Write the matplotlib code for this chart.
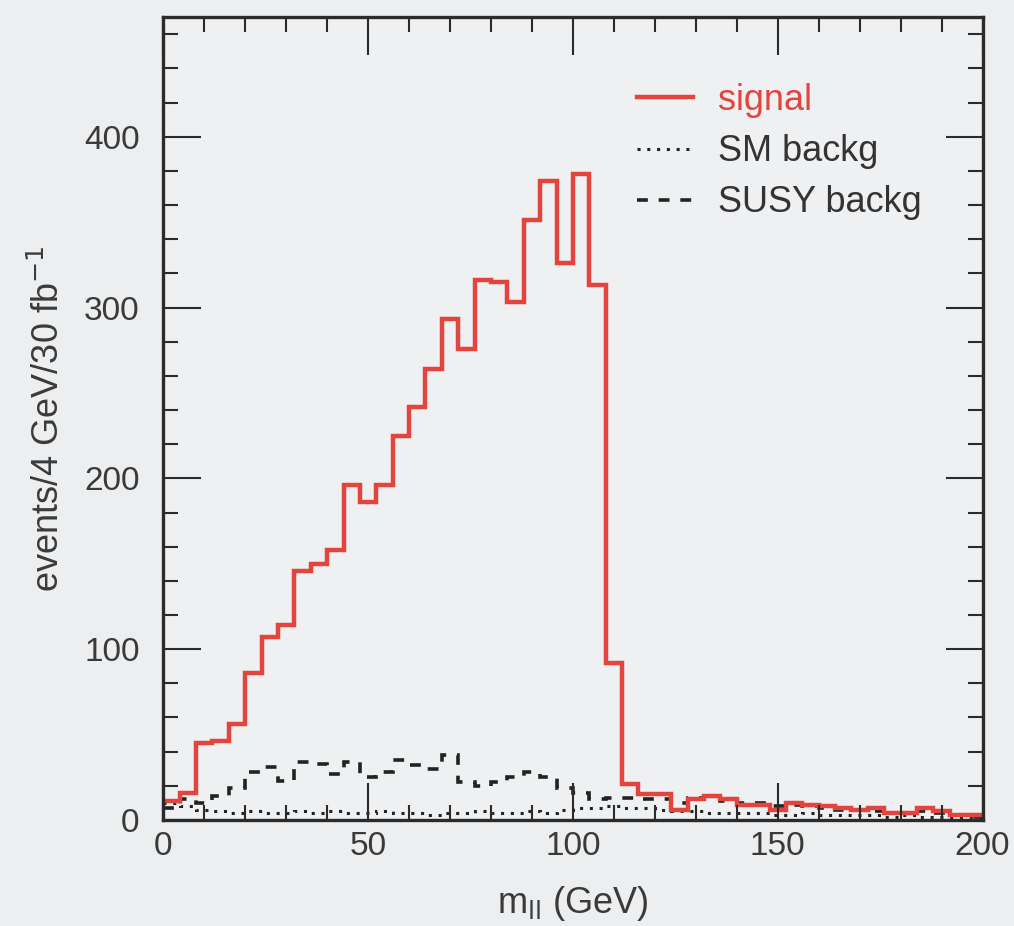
import numpy as np
import matplotlib
matplotlib.use("Agg")
import matplotlib.pyplot as plt
from matplotlib.ticker import MultipleLocator

# bin edges in GeV (4 GeV bins)
edges = np.arange(0, 204, 4)

# events per bin
signal = [11, 16, 45, 46, 56, 86, 107, 114, 146, 150,
          158, 196, 186, 196, 225, 242, 264, 293, 276, 316,
          315, 303, 351, 374, 326, 378, 313, 92, 21, 15,
          15, 6, 12, 14, 12, 9, 9, 6, 10, 9,
          8, 7, 6, 7, 4, 4, 7, 5, 3, 3]
susy_bkg = [7, 12, 10, 14, 19, 28, 31, 23, 34, 33,
            27, 34, 25, 28, 35, 32, 30, 38, 22, 20,
            22, 25, 28, 25, 19, 16, 12, 13, 13, 12,
            12, 10, 13, 14, 11, 10, 10, 8, 9, 8,
            7, 6, 6, 5, 4, 4, 5, 4, 3, 2]
sm_bkg = [10, 8, 6, 5, 4, 5, 4, 4, 5, 4,
          5, 4, 4, 5, 4, 4, 3, 4, 4, 5,
          4, 4, 5, 4, 6, 7, 7, 8, 7, 7,
          6, 5, 5, 4, 4, 4, 4, 3, 3, 4,
          3, 3, 3, 3, 2, 3, 2, 2, 2, 2]

labels = ["signal", "SM backg", "SUSY backg"]

plt.rcParams['font.family'] = ['Liberation Sans', 'DejaVu Sans']

bg = '#eceef0'
ink = '#2b2b2b'
red = '#e4443e'

fig = plt.figure(figsize=(10.14, 9.26), dpi=100, facecolor=bg)
ax = fig.add_axes([0.161, 0.1145, 0.808, 0.867])
ax.set_facecolor('#eff0f2')

ax.stairs(sm_bkg, edges, baseline=None, color='#222222', lw=2.2,
          linestyle=(0, (1, 2.2)), label=labels[1])
ax.stairs(susy_bkg, edges, baseline=None, color='#222222', lw=2.6,
          linestyle=(0, (3, 3)), label=labels[2])
ax.stairs(signal, edges, baseline=None, color=red, lw=3.2, label=labels[0])

ax.set_xlim(0, 200)
ax.set_ylim(0, 470)

ax.xaxis.set_major_locator(MultipleLocator(50))
ax.xaxis.set_minor_locator(MultipleLocator(10))
ax.yaxis.set_major_locator(MultipleLocator(100))
ax.yaxis.set_minor_locator(MultipleLocator(20))

ax.tick_params(which='both', direction='in', top=True, right=True,
               color=ink, width=1.5)
ax.tick_params(which='major', length=27)
ax.tick_params(which='minor', length=11)
ax.tick_params(axis='x', which='major', labelsize=24, pad=8, labelcolor='#3a3a3a')
ax.tick_params(axis='y', which='major', labelsize=24, pad=17, labelcolor='#3a3a3a')

for s in ax.spines.values():
    s.set_linewidth(2.4)
    s.set_color(ink)

ax.set_xlabel("m$_{\\rm ll}$ (GeV)", fontsize=26, color='#3a3a3a', labelpad=16)
ax.set_ylabel("events/4 GeV/30 fb$^{-1}$", fontsize=26, color='#3a3a3a', labelpad=12)

# legend in the order signal, SM, SUSY
h, l = ax.get_legend_handles_labels()
order = [l.index(x) for x in labels]
leg = ax.legend([h[i] for i in order], [l[i] for i in order],
                loc='upper left', bbox_to_anchor=(0.578, 0.918),
                frameon=False, fontsize=26, handlelength=1.55,
                handletextpad=0.7, labelspacing=0.45,
                borderpad=0, borderaxespad=0,
                labelcolor=[red, '#333333', '#333333'])

fig.savefig("out.png", dpi=100, facecolor=bg)
